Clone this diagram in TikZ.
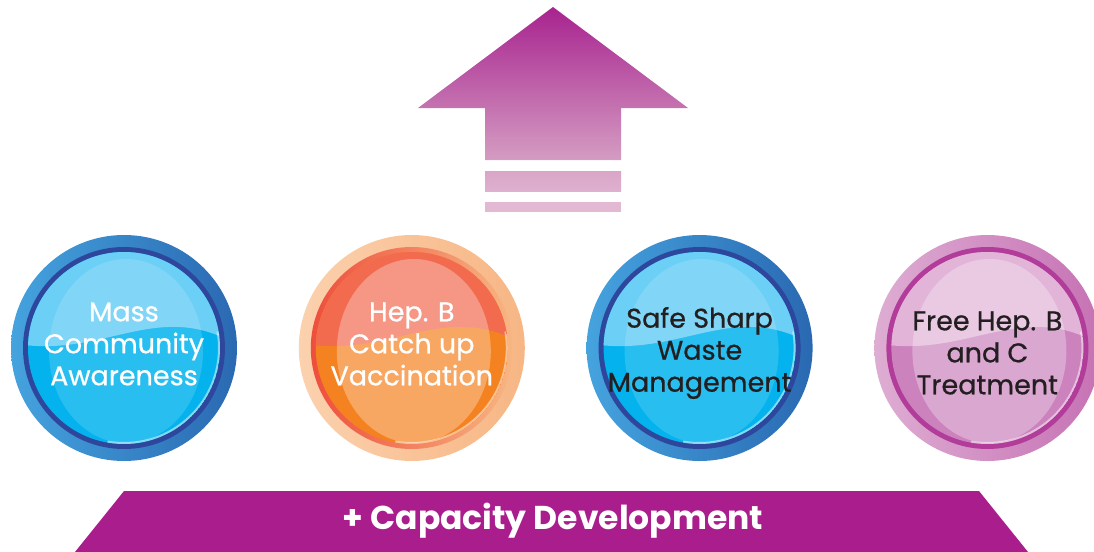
\documentclass[tikz,border=0pt]{standalone}
\usepackage{fontspec}
\setmainfont{Poppins}
\newfontfamily\bubblefont{Poppins}[FakeBold=0.7]
\usepackage{tikz}
\usetikzlibrary{positioning, backgrounds}

\definecolor{ArrowTop}{HTML}{A8238F}
\definecolor{ArrowBot}{HTML}{D49CC2}
\definecolor{BarOneTop}{HTML}{D9A5C8}
\definecolor{BarOneBot}{HTML}{DFB0CF}
\definecolor{BarTwo}{HTML}{E3B8D3}
\definecolor{BlueRingL}{HTML}{45A3DE}
\definecolor{BlueRingR}{HTML}{2A69B2}
\definecolor{BlueDark}{HTML}{2E479D}
\definecolor{BlueUp}{HTML}{6BCFF6}
\definecolor{BlueLow}{HTML}{04B3EE}
\definecolor{OrangeRingL}{HTML}{FBD1AE}
\definecolor{OrangeRingR}{HTML}{F7B684}
\definecolor{OrangeDark}{HTML}{EE4E3C}
\definecolor{OrangeUp}{HTML}{F26B4F}
\definecolor{OrangeLow}{HTML}{F58220}
\definecolor{PinkRingL}{HTML}{DEADD3}
\definecolor{PinkRingR}{HTML}{C672B4}
\definecolor{PinkDark}{HTML}{B23C99}
\definecolor{PinkUp}{HTML}{E2B4D8}
\definecolor{PinkLow}{HTML}{CB82BD}
\definecolor{CapPurple}{HTML}{A91E8C}
\definecolor{InkDark}{HTML}{231F20}

\begin{document}
\begin{tikzpicture}[x=0.5pt, y=-0.5pt, node distance=30.5pt, bubble/.style={circle, minimum size=113pt, inner sep=0pt, align=center, text=white, font=\bubblefont\fontsize{13.5}{16}\selectfont}, bubbleink/.style={bubble, text=InkDark}, captext/.style={text=white, font=\fontsize{16.5}{18}\selectfont\bfseries}]

    \useasboundingbox (0,0) rectangle (1094,552);

    % Arrow ---------------
    \shade[top color=ArrowTop, bottom color=ArrowBot] (553,7) -- (688,108) -- (621,108) -- (621,160) -- (485,160) -- (485,108) -- (418,108) -- cycle;
    \shade[top color=BarOneTop, bottom color=BarOneBot] (485,171) rectangle (621,191);
    \fill[BarTwo] (485,202) rectangle (621,212);

    % Nodes
    \node[bubble]    (mass)                          at (124,344)   {Mass\\Community\\Awareness};
    \node[bubble]    (hepb)     [right=of mass]                     {Hep. B\\Catch up\\Vaccination};
    \node[bubbleink] (sharp)    [right=of hepb, yshift=-4.5pt]      {Safe Sharp\\Waste\\Management};
    \node[bubbleink] (treat)    [right=of sharp]                    {Free Hep. B\\and C\\Treatment};

    % Bubbles ---------------
    \begin{scope}[on background layer]
        \begin{scope}[shift={(mass.center)}, yshift=-2pt]
            \shade[left color=BlueRingL, right color=BlueRingR] (0,0) circle (113);
            \fill[BlueDark] (0,0) circle (101);
            \fill[BlueLow] (0,0) circle (96);
            \clip (0,0) circle (96);
            \fill[BlueUp] (-100,-3) .. controls (-20,6) and (30,-42) .. (100,-10) -- (100,-100) -- (-100,-100) -- cycle;
            \fill[white, opacity=.15] (2,3) ellipse (77 and 92);
            \draw[white, opacity=.5, line width=1pt] (-10:95) arc (-10:100:95);
        \end{scope}
        \begin{scope}[shift={(hepb.center)}, yshift=-2pt]
            \shade[left color=OrangeRingL, right color=OrangeRingR] (0,0) circle (113);
            \shade[left color=OrangeDark, right color=OrangeRingR] (0,0) circle (101);
            \fill[OrangeLow] (0,0) circle (96);
            \clip (0,0) circle (96);
            \fill[OrangeUp] (-100,-3) .. controls (-20,6) and (30,-42) .. (100,-10) -- (100,-100) -- (-100,-100) -- cycle;
            \fill[white, opacity=.3] (2,3) ellipse (77 and 92);
            \draw[white, opacity=.5, line width=1pt] (-10:95) arc (-10:100:95);
        \end{scope}
        \begin{scope}[shift={(sharp.center)}, yshift=2.5pt]
            \shade[left color=BlueRingL, right color=BlueRingR] (0,0) circle (113);
            \fill[BlueDark] (0,0) circle (101);
            \fill[BlueLow] (0,0) circle (96);
            \clip (0,0) circle (96);
            \fill[BlueUp] (-100,-3) .. controls (-20,6) and (30,-42) .. (100,-10) -- (100,-100) -- (-100,-100) -- cycle;
            \fill[white, opacity=.15] (2,3) ellipse (77 and 92);
            \draw[white, opacity=.5, line width=1pt] (-10:95) arc (-10:100:95);
        \end{scope}
        \begin{scope}[shift={(treat.center)}, yshift=2.5pt]
            \shade[left color=PinkRingL, right color=PinkRingR] (0,0) circle (113);
            \fill[PinkDark] (0,0) circle (101);
            \fill[PinkLow] (0,0) circle (96);
            \clip (0,0) circle (96);
            \fill[PinkUp] (-100,-3) .. controls (-20,6) and (30,-42) .. (100,-10) -- (100,-100) -- (-100,-100) -- cycle;
            \fill[white, opacity=.3] (2,3) ellipse (77 and 92);
            \draw[white, opacity=.5, line width=1pt] (-10:95) arc (-10:100:95);
        \end{scope}
    \end{scope}

    % Capacity bar ---------------
    \fill[CapPurple] (124,491) -- (979,491) -- (1028,552) -- (75,552) -- cycle;
    \node[captext]   (capdev)                        at (553,521)   {+ Capacity Development};

\end{tikzpicture}
\end{document}
